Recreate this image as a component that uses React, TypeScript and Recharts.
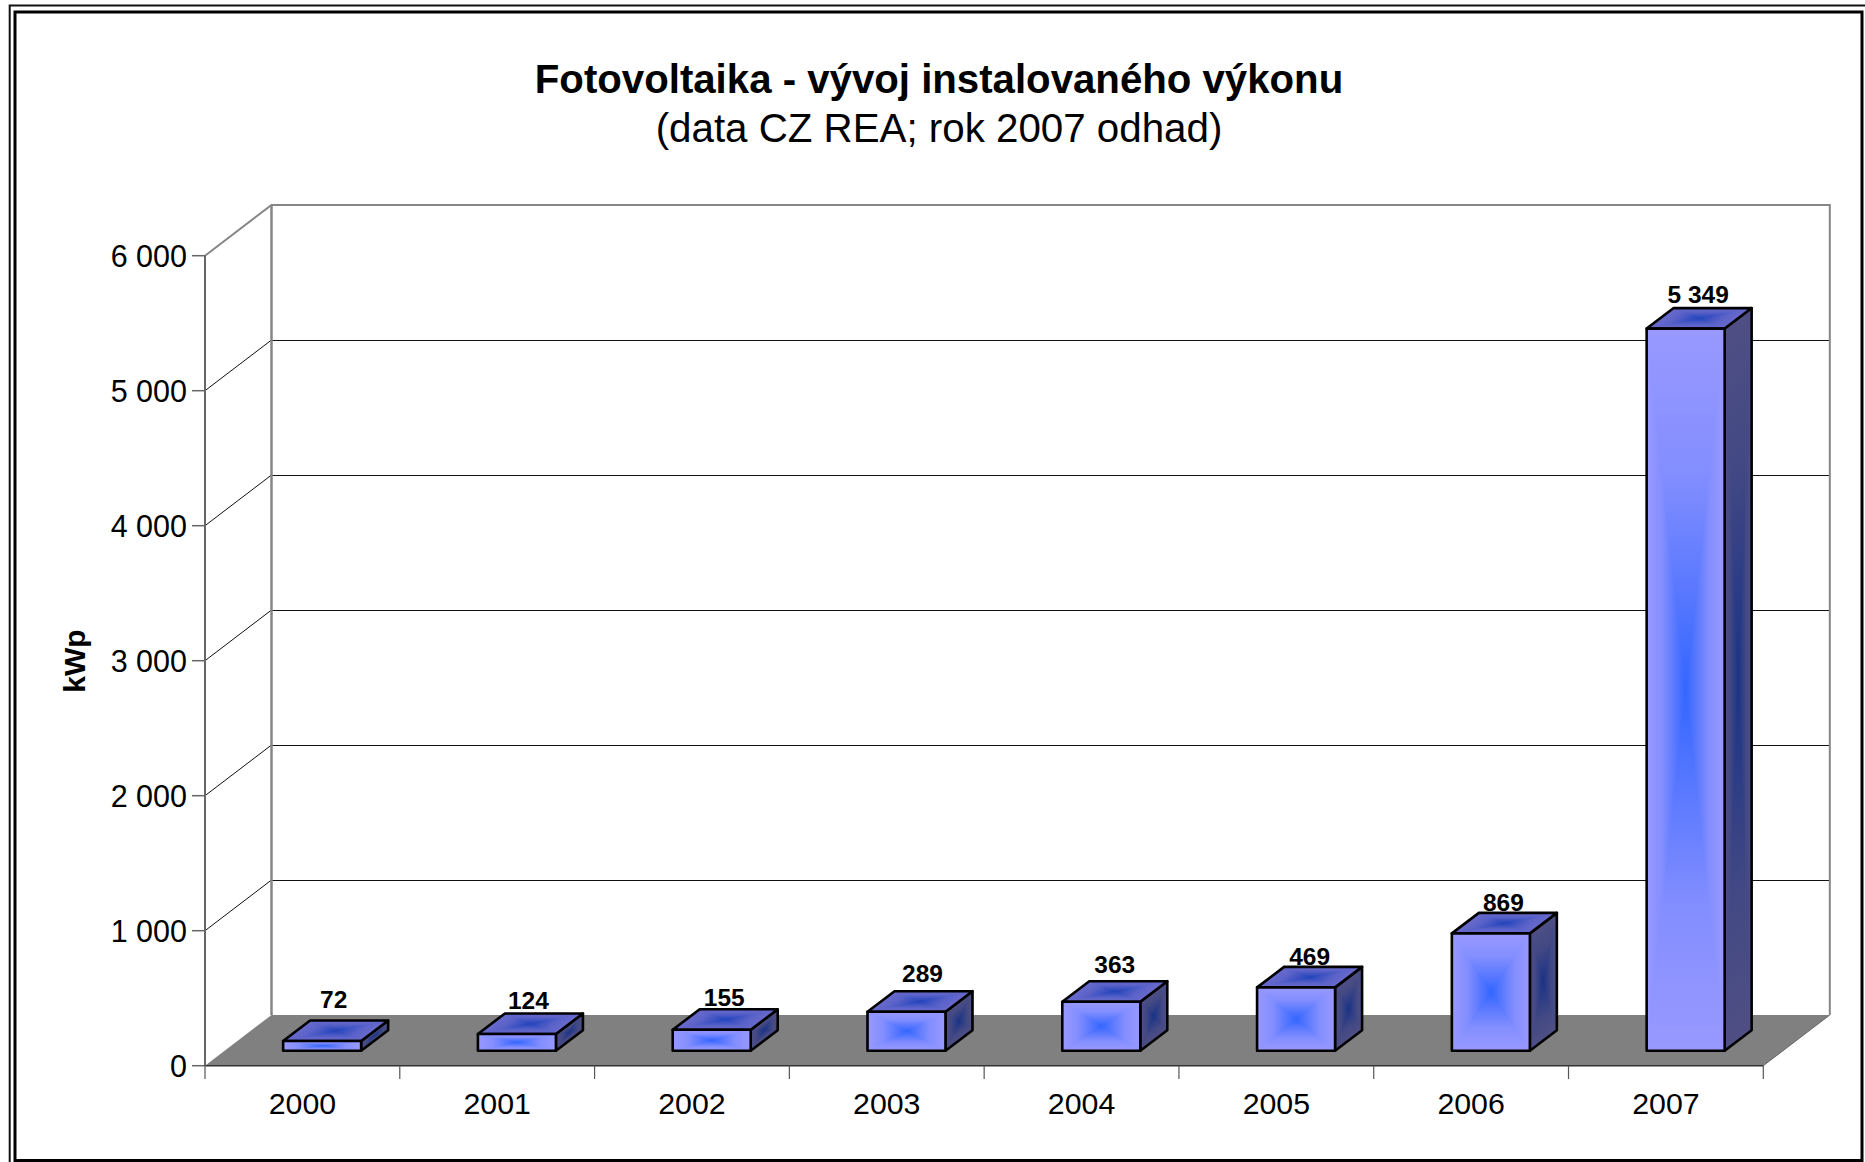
import { Bar, BarChart, CartesianGrid, LabelList, ReferenceArea, XAxis, YAxis } from "recharts"

const years = ["2000", "2001", "2002", "2003", "2004", "2005", "2006", "2007"]
const installedKwp = [72, 124, 155, 289, 363, 469, 869, 5349]
const yTicks = [0, 1000, 2000, 3000, 4000, 5000, 6000]

const chartData = years.map((year, i) => ({ year, kwp: installedKwp[i] }))

const WIDTH = 1865
const HEIGHT = 1162
const FONT = "'Liberation Sans', Arial, sans-serif"

// plot front plane
const PLOT_LEFT = 205
const PLOT_RIGHT = 1763.3
const PLOT_TOP = 255.7
const PLOT_BOTTOM = 1065.7
const BAND = (PLOT_RIGHT - PLOT_LEFT) / years.length

// fake 3D: depth of the whole box and of a single bar
const DEPTH_X = 66.5
const DEPTH_Y = 50.7
const BAR_SHIFT_X = 19.7
const BAR_SHIFT_Y = 15
const BAR_DEPTH_X = 27
const BAR_DEPTH_Y = 20.5

const WALL_GREY = "#868686"

const FACES = [
  { id: "front", edge: [0x99, 0x99, 0xff], centre: [0x33, 0x66, 0xff] },
  { id: "top", edge: [0x6a, 0x6a, 0xcc], centre: [0x22, 0x44, 0xbb] },
  { id: "side", edge: [0x4f, 0x4f, 0x84], centre: [0x1a, 0x33, 0x86] },
]
// the blue stays pale near the edge and only gets strong close to the centre
const RAMP = [
  [0, 0],
  [0.4, 0.22],
  [0.7, 0.6],
  [1, 1],
]

// the labels were moved by hand in the original
const labelLift = [21, 13, 12, 17.4, 16.7, 10.7, 11, 14]
const labelNudge = [-1, -1, 0, 3.5, 1, 1, 0, 0]

function formatThousands(v: number) {
  return String(v).replace(/\B(?=(\d{3})+$)/g, " ")
}

function mix(a: number[], b: number[], t: number) {
  const c = a.map((v, i) => Math.round(v + (b[i] - v) * t))
  return `rgb(${c[0]},${c[1]},${c[2]})`
}

function GradientDefs() {
  return (
    <defs>
      {FACES.map((f) =>
        [
          { side: "l", x1: 0, y1: 0, x2: 1, y2: 0 },
          { side: "r", x1: 1, y1: 0, x2: 0, y2: 0 },
          { side: "t", x1: 0, y1: 0, x2: 0, y2: 1 },
          { side: "b", x1: 0, y1: 1, x2: 0, y2: 0 },
        ].map(({ side, ...dir }) => (
          <linearGradient key={f.id + side} id={`${f.id}-${side}`} {...dir}>
            {RAMP.map(([at, t]) => (
              <stop key={at} offset={at} stopColor={mix(f.edge, f.centre, t)} />
            ))}
          </linearGradient>
        )),
      )}
    </defs>
  )
}

// rectangular "from centre" gradient on a parallelogram
function Face({ id, o, u, v }: { id: string; o: number[]; u: number[]; v: number[] }) {
  const p = (a: number, b: number) => `${o[0] + u[0] * a + v[0] * b},${o[1] + u[1] * a + v[1] * b}`
  return (
    <g>
      <g transform={`matrix(${u[0]} ${u[1]} ${v[0]} ${v[1]} ${o[0]} ${o[1]})`} shapeRendering="crispEdges">
        <polygon points="0,0 0.5,0.5 0,1" fill={`url(#${id}-l)`} />
        <polygon points="1,0 0.5,0.5 1,1" fill={`url(#${id}-r)`} />
        <polygon points="0,0 0.5,0.5 1,0" fill={`url(#${id}-t)`} />
        <polygon points="0,1 0.5,0.5 1,1" fill={`url(#${id}-b)`} />
      </g>
      <polygon
        points={`${p(0, 0)} ${p(1, 0)} ${p(1, 1)} ${p(0, 1)}`}
        fill="none"
        stroke="#000"
        strokeWidth={2.6}
        strokeLinejoin="round"
      />
    </g>
  )
}

function CuboidBar(props: any) {
  const { x, y, width, height } = props
  const fx = x + BAR_SHIFT_X
  const fy = y - BAR_SHIFT_Y
  return (
    <g>
      <Face id="side" o={[fx + width, fy]} u={[BAR_DEPTH_X, -BAR_DEPTH_Y]} v={[0, height]} />
      <Face id="top" o={[fx, fy]} u={[width, 0]} v={[BAR_DEPTH_X, -BAR_DEPTH_Y]} />
      <Face id="front" o={[fx, fy]} u={[width, 0]} v={[0, height]} />
    </g>
  )
}

function BarValue(props: any) {
  const { x, y, width, value, index } = props
  return (
    <text
      x={x + width / 2 + BAR_SHIFT_X + 12.5 + labelNudge[index]}
      y={y - BAR_SHIFT_Y - BAR_DEPTH_Y - labelLift[index] + 8.7}
      textAnchor="middle"
      fontFamily={FONT}
      fontSize={24.5}
      fontWeight="bold"
      fill="#000"
    >
      {formatThousands(value)}
    </text>
  )
}

function Box(props: any) {
  const { x, y, width, height } = props
  const bottom = y + height
  const backL = x + DEPTH_X
  const backR = x + width + DEPTH_X
  const backTop = y - DEPTH_Y
  const backBottom = bottom - DEPTH_Y
  return (
    <g>
      <polygon
        points={`${x},${bottom} ${x + width},${bottom} ${backR},${backBottom} ${backL},${backBottom}`}
        fill="#808080"
      />
      <line x1={x + width} y1={bottom} x2={backR} y2={backBottom} stroke="#666" strokeWidth={1} />
      <polyline
        points={`${x},${y} ${backL},${backTop} ${backR},${backTop} ${backR},${backBottom}`}
        fill="none"
        stroke={WALL_GREY}
        strokeWidth={2}
      />
      <line x1={backL} y1={backTop} x2={backL} y2={backBottom} stroke={WALL_GREY} strokeWidth={2.5} />
    </g>
  )
}

function GridLine(props: any) {
  const { x1, x2, y1 } = props
  if (y1 <= PLOT_TOP + 1 || y1 >= PLOT_BOTTOM - 1) return <g />
  return (
    <g>
      <line x1={x1} y1={y1} x2={x1 + DEPTH_X} y2={y1 - DEPTH_Y} stroke="#111" strokeWidth={1} />
      <line
        x1={x1 + DEPTH_X}
        y1={y1 - DEPTH_Y}
        x2={x2 + DEPTH_X}
        y2={y1 - DEPTH_Y}
        stroke="#111"
        strokeWidth={1}
        shapeRendering="crispEdges"
      />
    </g>
  )
}

function YearTick(props: any) {
  const { x, y, index, payload } = props
  return (
    <g>
      <line x1={x - BAND / 2} y1={y} x2={x - BAND / 2} y2={y + 13.3} stroke="#555" strokeWidth={1.2} />
      {index === years.length - 1 && (
        <line x1={x + BAND / 2} y1={y} x2={x + BAND / 2} y2={y + 13.3} stroke="#555" strokeWidth={1.2} />
      )}
      <text x={x} y={y + 48} textAnchor="middle" fontFamily={FONT} fontSize={30.3} fill="#000">
        {payload.value}
      </text>
    </g>
  )
}

export default function App() {
  return (
    <div style={{ position: "absolute", left: 0, top: 0, width: WIDTH, height: HEIGHT, background: "#fff" }}>
      <BarChart
        width={WIDTH}
        height={HEIGHT}
        data={chartData}
        barCategoryGap="30%"
        margin={{ left: PLOT_LEFT - 80, right: WIDTH - PLOT_RIGHT, top: PLOT_TOP, bottom: HEIGHT - PLOT_BOTTOM - 60 }}
      >
        <GradientDefs />

        {/* double frame round the chart, the outer one runs off the page */}
        <rect x={9.7} y={5.5} width={1880} height={1180} fill="none" stroke="#111" strokeWidth={2} />
        <rect x={15} y={12} width={1847} height={1148.5} fill="none" stroke="#000" strokeWidth={3} />

        <text x={939} y={93} textAnchor="middle" fontFamily={FONT} fontSize={40.2} fontWeight="bold" fill="#000">
          Fotovoltaika - vývoj instalovaného výkonu
        </text>
        <text x={939} y={142} textAnchor="middle" fontFamily={FONT} fontSize={40.3} fill="#000">
          (data CZ REA; rok 2007 odhad)
        </text>
        <text
          x={85}
          y={661}
          transform="rotate(-90 85 661)"
          textAnchor="middle"
          fontFamily={FONT}
          fontSize={30}
          fontWeight="bold"
          fill="#000"
        >
          kWp
        </text>

        <ReferenceArea y1={0} y2={6000} ifOverflow="visible" shape={Box} />
        <CartesianGrid horizontal={GridLine} vertical={false} />

        <XAxis
          dataKey="year"
          height={60}
          tickSize={0}
          tickMargin={0}
          tickLine={false}
          axisLine={{ stroke: "#333", strokeWidth: 1.5 }}
          tick={YearTick}
          interval={0}
        />
        <YAxis
          width={80}
          domain={[0, 6000]}
          ticks={yTicks}
          tickFormatter={formatThousands}
          tickSize={13}
          tickMargin={5}
          tickLine={{ stroke: "#666", strokeWidth: 1.5 }}
          axisLine={{ stroke: "#666", strokeWidth: 2 }}
          tick={{ fontFamily: FONT, fontSize: 30.5, fill: "#000" }}
        />
        <Bar dataKey="kwp" isAnimationActive={false} shape={CuboidBar}>
          <LabelList dataKey="kwp" content={BarValue} />
        </Bar>
      </BarChart>
    </div>
  )
}
